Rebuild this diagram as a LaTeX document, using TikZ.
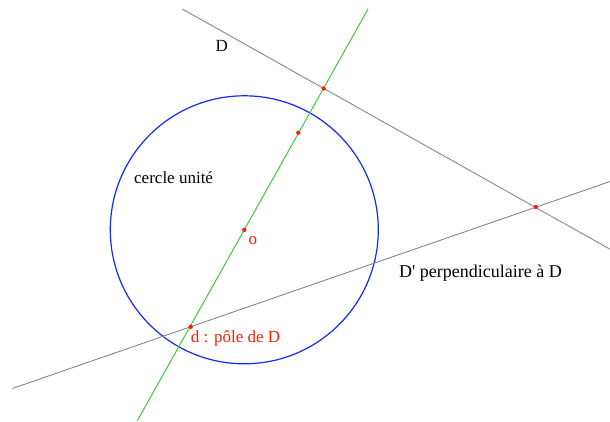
\documentclass[tikz,border=0pt]{standalone}
\usepackage{fontspec}
\setmainfont{Liberation Serif}[Ligatures=TeXOff]
\definecolor{lgray}{RGB}{135,135,135}
\definecolor{lgreen}{RGB}{60,205,60}
\definecolor{lblue}{RGB}{20,40,250}
\definecolor{lred}{RGB}{250,30,0}
\begin{document}
\begin{tikzpicture}[x=1pt,y=-1pt,
  thinline/.style={draw=lgray,line width=0.9pt},
  greenline/.style={draw=lgreen,line width=1pt},
  dotpt/.style={circle,fill=lred,inner sep=0pt,minimum size=4.3pt},
  lab/.style={font=\fontsize{17}{20}\selectfont,inner sep=0pt,anchor=base west},
  redlab/.style={lab,text=lred}]
\useasboundingbox (0,0) rectangle (610,421);
% endpoints
\coordinate (Da) at (182.3,9);
\coordinate (Db) at (610,249.2);
\coordinate (Pa) at (12.3,388.5);
\coordinate (Pb) at (610,181.5);
\coordinate (Ga) at (137.3,420.7);
\coordinate (Gb) at (368,9);
% circle
\node[draw=lblue,line width=1.2pt,circle,minimum size=268pt,inner sep=0pt] (C) at (244.3,229.8) {};
% lines
\draw[thinline] (Da) -- (Db);
\draw[thinline] (Pa) -- (Pb);
\draw[greenline] (Ga) -- (Gb);
% points
\node[dotpt] (O) at (244.3,229.8) {};
\node[dotpt] (I) at (298.3,132.7) {};
\node[dotpt] (H) at (323.7,88.5) {};
\node[dotpt] (X) at (535.7,207) {};
\node[dotpt] (P) at (190.7,326.8) {};
% labels
\node[lab] (tD) at (215.5,51.5) {D};
\node[lab] (tC) at (134,183.3) {cercle unité};
\node[redlab] (tO) at (248.3,244) {o};
\node[lab,font=\fontsize{18}{21}\selectfont] (tDp) at (399,277.5) {D' perpendiculaire à D};
\node[redlab] (tP) at (190.7,342.5) {d : pôle de D};
\end{tikzpicture}
\end{document}
